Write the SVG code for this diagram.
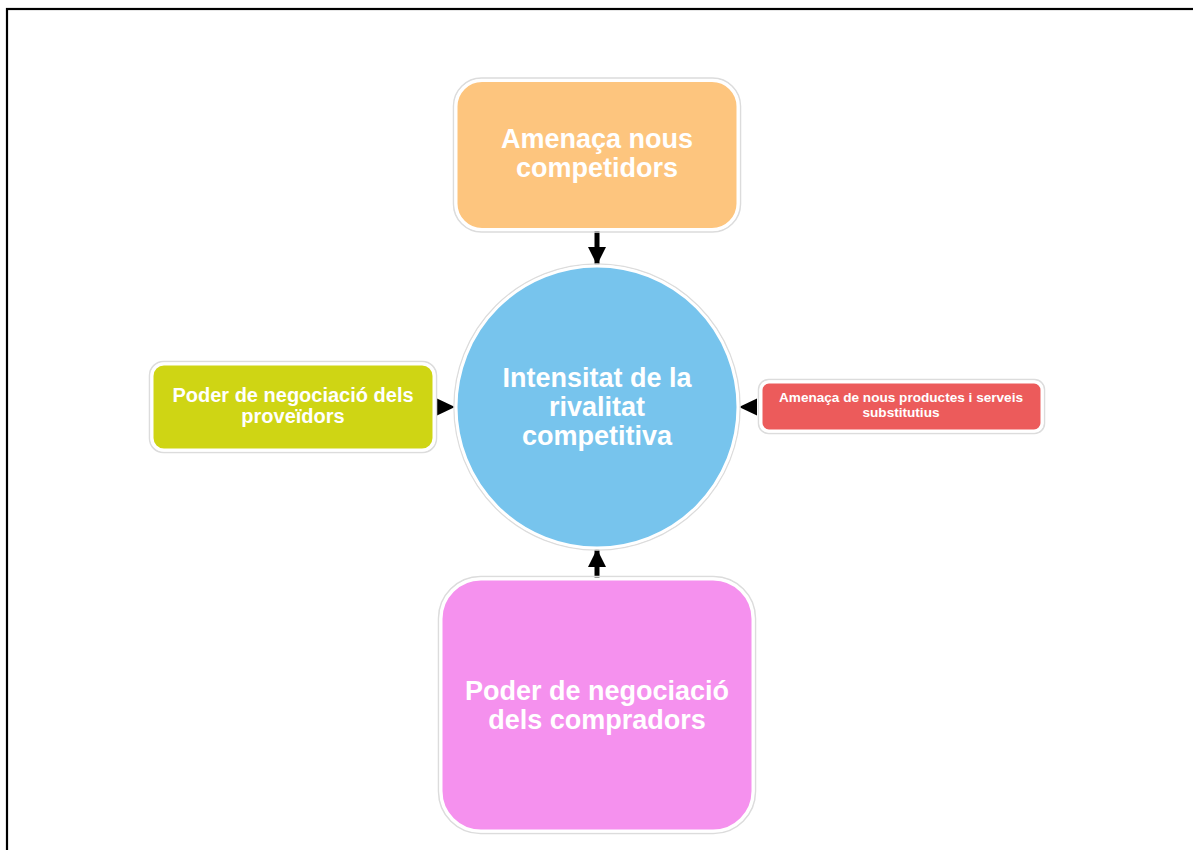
<svg xmlns="http://www.w3.org/2000/svg" width="1193" height="850" viewBox="0 0 1193 850">
<style>
.outline{fill:none;stroke:#dcdcdc;stroke-width:1.5}
.edge{stroke:#ffffff;stroke-width:3}
.lbl{font-family:"Liberation Sans",Arial,sans-serif;font-weight:bold;fill:#ffffff;text-anchor:middle}
.conn{stroke:#000;stroke-width:5;fill:none}
</style>
<defs>
<marker id="ah" viewBox="0 0 10 10" refX="10" refY="5" markerWidth="3.6" markerHeight="3.6" markerUnits="strokeWidth" orient="auto">
<path d="M0,0 L10,5 L0,10 Z" fill="#000"/>
</marker>
</defs>
<rect x="0" y="0" width="1193" height="850" fill="#ffffff"/>
<rect x="7" y="9" width="1200" height="860" fill="none" stroke="#000" stroke-width="2.2"/>
<g id="connectors">
<line class="conn" x1="597" y1="231" x2="597" y2="265" marker-end="url(#ah)"/>
<path d="M437,398.5 L455,407 L437,415.5 Z" fill="#000"/>
<path d="M757,398.5 L739,407 L757,415.5 Z" fill="#000"/>
<line class="conn" x1="597" y1="578" x2="597" y2="549" marker-end="url(#ah)"/>
</g>
<g id="n-orange">
<rect class="outline" x="453.5" y="78" width="287" height="154" rx="28"/>
<rect class="edge" x="456" y="80.5" width="282" height="149" rx="26" fill="#fdc57e"/>
<text class="lbl" font-size="27" x="597" y="148">Amenaça nous</text>
<text class="lbl" font-size="27" x="597" y="177">competidors</text>
</g>
<g id="n-center">
<circle cx="597" cy="407" r="143" fill="none" stroke="#dcdcdc" stroke-width="1.5"/>
<circle cx="597" cy="407" r="141" fill="#77c4ed" stroke="#ffffff" stroke-width="3"/>
<text class="lbl" font-size="27" x="597" y="387">Intensitat de la</text>
<text class="lbl" font-size="27" x="597" y="416">rivalitat</text>
<text class="lbl" font-size="27" x="597" y="445">competitiva</text>
</g>
<g id="n-green">
<rect class="outline" x="149.5" y="361.5" width="287" height="91" rx="14"/>
<rect class="edge" x="152" y="364" width="282" height="86" rx="12" fill="#cfd514"/>
<text class="lbl" font-size="20" x="293" y="402">Poder de negociació dels</text>
<text class="lbl" font-size="20" x="293" y="423">proveïdors</text>
</g>
<g id="n-red">
<rect class="outline" x="758.5" y="379.5" width="286" height="54" rx="10"/>
<rect class="edge" x="761" y="382" width="281" height="49" rx="8" fill="#ec5b5b"/>
<text class="lbl" font-size="13.6" x="901" y="402">Amenaça de nous productes i serveis</text>
<text class="lbl" font-size="13.6" x="901" y="417">substitutius</text>
</g>
<g id="n-pink">
<rect class="outline" x="438.5" y="576.5" width="317" height="257" rx="42"/>
<rect class="edge" x="441" y="579" width="312" height="252" rx="40" fill="#f591ee"/>
<text class="lbl" font-size="27" x="597" y="700">Poder de negociació</text>
<text class="lbl" font-size="27" x="597" y="729">dels compradors</text>
</g>
</svg>
